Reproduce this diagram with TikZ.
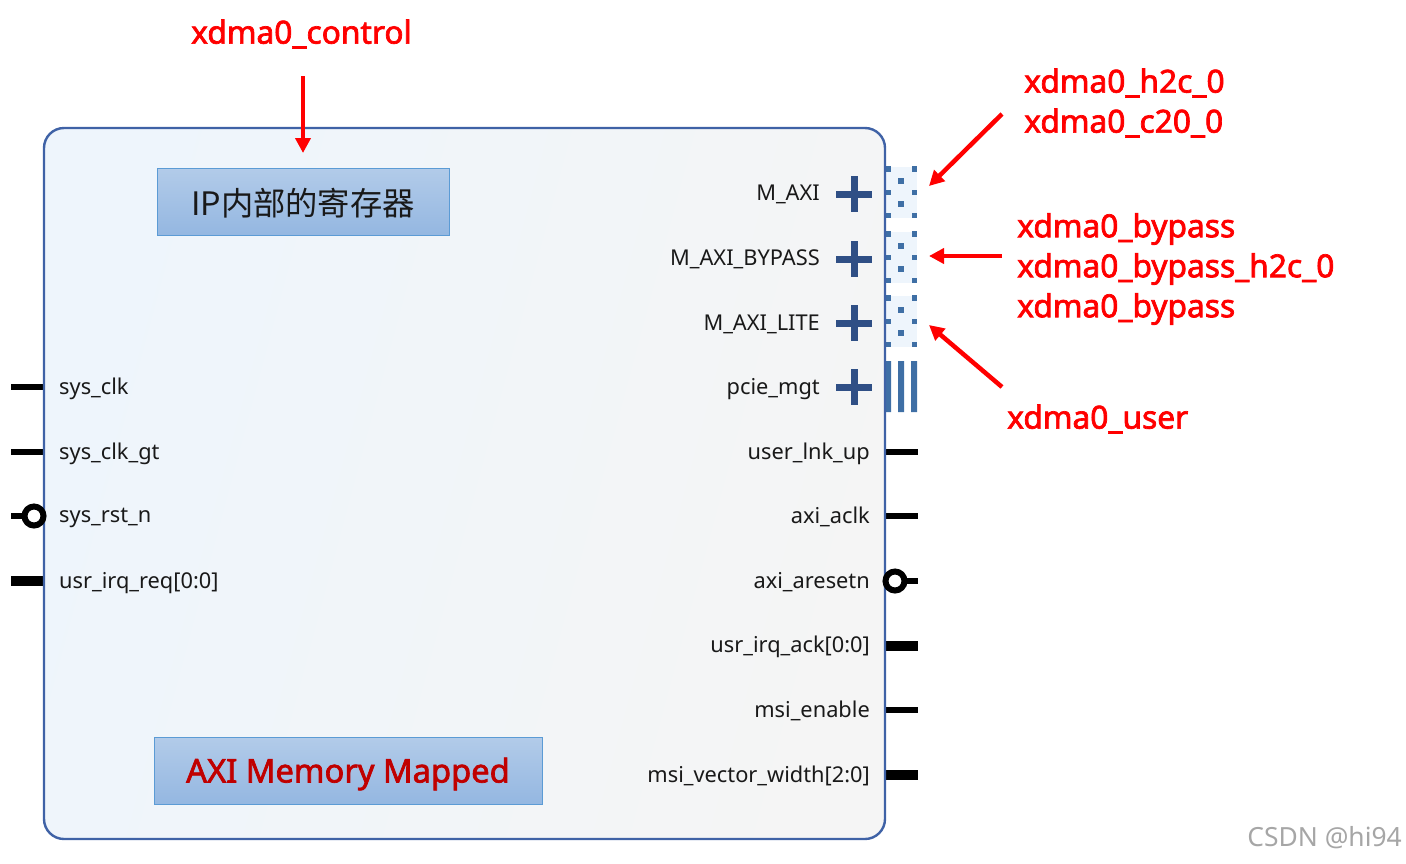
\documentclass[tikz,border=0pt]{standalone}
\usepackage{fontspec}
\setmainfont{Noto Sans}
\newfontfamily\cjk{Noto Sans CJK SC}
\newcommand{\heavy}[1]{\special{pdf:code 2 Tr 0.7 w}#1\special{pdf:code 0 Tr 1 w}}
\usetikzlibrary{arrows.meta}
\definecolor{bodyline}{HTML}{3F62A6}
\definecolor{boxline}{HTML}{5B9BD5}
\definecolor{boxtop}{HTML}{B2CBE9}
\definecolor{boxbot}{HTML}{94B7E1}
\definecolor{plusc}{HTML}{2F4F85}
\definecolor{sq}{HTML}{3F6FA5}
\definecolor{pinbg}{HTML}{EEF5FC}
\definecolor{redtxt}{HTML}{FF0000}
\definecolor{axired}{HTML}{C00000}
\tikzset{
  x=1pt,y=-1pt,
  portl/.style={anchor=west,inner sep=0,font=\fontsize{21.8}{25}\selectfont,text=black!90},
  portr/.style={anchor=east,inner sep=0,font=\fontsize{21.8}{25}\selectfont,text=black!90},
  note/.style={anchor=west,inner sep=0,text=redtxt,font=\fontsize{31.7}{36}\selectfont},
  bluebox/.style={draw=boxline,line width=1pt,top color=boxtop,bottom color=boxbot,anchor=north west,inner sep=0},
  redarrow/.style={draw=redtxt,line width=4.5pt,-{Triangle[length=15pt,width=15pt]},shorten >=0pt},
  wire/.style={line width=5.5pt,black},
  buswire/.style={line width=10pt,black},
  plusmark/.style={draw=plusc,line width=7pt},
  ring/.style={circle,draw=black,line width=6pt,fill=white,minimum size=19pt,inner sep=0},
}
\newcommand{\plusat}[1]{\draw[plusmark] (836,#1)--(872,#1) (854,#1-18)--(854,#1+18);}
\newcommand{\dotpin}[1]{%
  \fill[pinbg] (885,#1-2)rectangle(917,#1+49);
  \foreach \yy in {0,23.5,46.5}{\fill[sq] (885,#1+\yy-2.7)rectangle(891,#1+\yy+2.7);\fill[sq] (911.5,#1+\yy-2.7)rectangle(917,#1+\yy+2.7);}
  \foreach \yy in {12,35}{\fill[sq] (898,#1+\yy-2.7)rectangle(903.5,#1+\yy+2.7);}
}
\begin{document}
\begin{tikzpicture}
\useasboundingbox (0,0) rectangle (1406,863);
% pins behind body
\dotpin{169}\dotpin{234}\dotpin{298}
\fill[sq] (885,361)rectangle(891,412) (898,361)rectangle(904,412) (911,361)rectangle(917,412);
% wires
\coordinate (w1a) at (11,387); \coordinate (w1b) at (44,387); \draw[wire] (w1a)--(w1b);
\coordinate (w2a) at (11,452); \coordinate (w2b) at (44,452); \draw[wire] (w2a)--(w2b);
\coordinate (w3a) at (11,516); \coordinate (w3b) at (30,516); \draw[wire] (w3a)--(w3b);
\coordinate (w4a) at (11,581); \coordinate (w4b) at (44,581); \draw[buswire] (w4a)--(w4b);
\coordinate (e1a) at (885,452); \coordinate (e1b) at (918,452); \draw[wire] (e1a)--(e1b);
\coordinate (e2a) at (885,516); \coordinate (e2b) at (918,516); \draw[wire] (e2a)--(e2b);
\coordinate (e3a) at (900,581); \coordinate (e3b) at (918,581); \draw[wire] (e3a)--(e3b);
\coordinate (e4a) at (885,646); \coordinate (e4b) at (918,646); \draw[buswire] (e4a)--(e4b);
\coordinate (e5a) at (885,710); \coordinate (e5b) at (918,710); \draw[wire] (e5a)--(e5b);
\coordinate (e6a) at (885,775); \coordinate (e6b) at (918,775); \draw[buswire] (e6a)--(e6b);
% body
\draw[bodyline,line width=2.4pt,rounded corners=20pt,left color=pinbg,right color=black!4,shading angle=75] (44,128) rectangle (885,839);
\node[ring] (rl) at (34,516) {};
\node[ring] (rr) at (895,581) {};
\plusat{194}\plusat{259}\plusat{323}\plusat{387}
% boxes
\node[bluebox,minimum width=292pt,minimum height=67pt] (ipbox) at (156.7,167.8) {};
\node[inner sep=0,font=\cjk\fontsize{32.3}{38}\selectfont,text=black!90] (iptxt) at (303,203) {IP内部的寄存器};
\node[bluebox,minimum width=388pt,minimum height=67pt] (axibox) at (153.7,736.8) {};
\node[inner sep=0,font=\fontsize{32.7}{38}\selectfont,text=axired] (axitxt) at (348,774) {\heavy{AXI Memory Mapped}};
% port labels
\node[portl] (p1) at (59,389) {sys\_clk};
\node[portl] (p2) at (59,454) {sys\_clk\_gt};
\node[portl] (p3) at (59,518) {sys\_rst\_n};
\node[portl] (p4) at (59,583) {usr\_irq\_req[0:0]};
\node[portr] (q1) at (820,194) {M\_AXI};
\node[portr] (q2) at (820,259) {M\_AXI\_BYPASS};
\node[portr] (q3) at (820,324) {M\_AXI\_LITE};
\node[portr] (q4) at (820,389) {pcie\_mgt};
\node[portr] (q5) at (870,454) {user\_lnk\_up};
\node[portr] (q6) at (870,517) {axi\_aclk};
\node[portr] (q7) at (870,582) {axi\_aresetn};
\node[portr] (q8) at (870,647) {usr\_irq\_ack[0:0]};
\node[portr] (q9) at (870,711) {msi\_enable};
\node[portr] (q10) at (870,776) {msi\_vector\_width[2:0]};
% notes
\node[note] (n1) at (191,34) {\heavy{xdma0\_control}};
\node[note] (n2) at (1024,83) {\heavy{xdma0\_h2c\_0}};
\node[note] (n3) at (1024,123) {\heavy{xdma0\_c20\_0}};
\node[note] (n4) at (1017,229) {\heavy{xdma0\_bypass}};
\node[note] (n5) at (1017,269) {\heavy{xdma0\_bypass\_h2c\_0}};
\node[note] (n6) at (1017,309) {\heavy{xdma0\_bypass}};
\node[note] (n7) at (1007,419) {\heavy{xdma0\_user}};
\node[anchor=east,inner sep=0,text=black!35,font=\fontsize{26.4}{30}\selectfont] (wm) at (1402,838) {CSDN @hi94};
% arrows
\coordinate (a1s) at (303,76); \coordinate (a1e) at (303,153); \draw[redarrow] (a1s)--(a1e);
\coordinate (a2s) at (1002,114); \coordinate (a2e) at (929,186); \draw[redarrow] (a2s)--(a2e);
\coordinate (a3s) at (1002,256); \coordinate (a3e) at (929,256); \draw[redarrow] (a3s)--(a3e);
\coordinate (a4s) at (1002,387); \coordinate (a4e) at (929,325); \draw[redarrow] (a4s)--(a4e);
\end{tikzpicture}
\end{document}
